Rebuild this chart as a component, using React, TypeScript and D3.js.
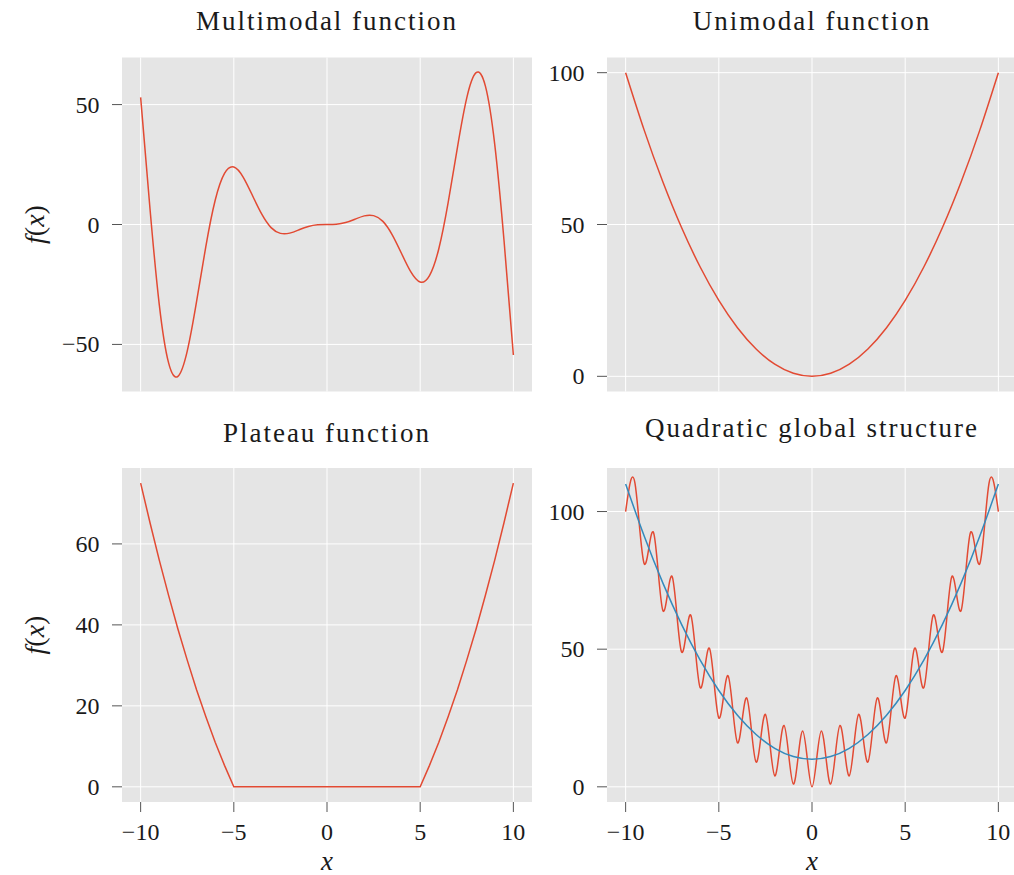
import React from 'react'
import * as d3 from 'd3'

const FONT = '"Liberation Serif", "Times New Roman", serif'
const RED = '#E24A33'
const BLUE = '#348ABD'
const BG = '#E5E5E5'
const TEXT = '#1a1a1a'

const xTicks = [-10, -5, 0, 5, 10]

// half-step x grid shared by the wavy curves
const halfX = [-10, -9.5, -9, -8.5, -8, -7.5, -7, -6.5, -6, -5.5, -5, -4.5, -4, -3.5, -3, -2.5, -2, -1.5, -1, -0.5,
  0, 0.5, 1, 1.5, 2, 2.5, 3, 3.5, 4, 4.5, 5, 5.5, 6, 6.5, 7, 7.5, 8, 8.5, 9, 9.5, 10]
const intX = [-10, -9, -8, -7, -6, -5, -4, -3, -2, -1, 0, 1, 2, 3, 4, 5, 6, 7, 8, 9, 10]

// Multimodal function
const multiY = [53, 6.8, -33.4, -57.7, -63.3, -52.8, -32.2, -9.1, 10.1, 21.3, 24.0, 19.8, 12.1, 4.3, -1.3, -3.7,
  -3.6, -2.2, -0.8, -0.1, 0, 0.1, 0.8, 2.2, 3.6, 3.7, 1.3, -4.3, -12.1, -19.8, -24.0, -21.3, -10.1, 9.1, 32.2,
  52.8, 63.3, 57.7, 33.4, -6.8, -54.4]
const multiTicks = [-50, 0, 50]

// Unimodal function
const uniY = [100, 81, 64, 49, 36, 25, 16, 9, 4, 1, 0, 1, 4, 9, 16, 25, 36, 49, 64, 81, 100]
const uniTicks = [0, 50, 100]

// Plateau function
const plateauX = [-10, -9.5, -9, -8.5, -8, -7.5, -7, -6.5, -6, -5.5, -5, 0, 5, 5.5, 6, 6.5, 7, 7.5, 8, 8.5, 9, 9.5, 10]
const plateauY = [75, 65.3, 56, 47.3, 39, 31.3, 24, 17.3, 11, 5.3, 0, 0, 0, 5.3, 11, 17.3, 24, 31.3, 39, 47.3, 56, 65.3, 75]
const plateauTicks = [0, 20, 40, 60]

// Quadratic global structure
const quadRed = [100, 110.3, 81, 92.3, 64, 76.3, 49, 62.3, 36, 50.3, 25, 40.3, 16, 32.3, 9, 26.3, 4, 22.3, 1, 20.3,
  0, 20.3, 1, 22.3, 4, 26.3, 9, 32.3, 16, 40.3, 25, 50.3, 36, 62.3, 49, 76.3, 64, 92.3, 81, 110.3, 100]
const quadBlue = [110, 91, 74, 59, 46, 35, 26, 19, 14, 11, 10, 11, 14, 19, 26, 35, 46, 59, 74, 91, 110]
const quadTicks = [0, 50, 100]

type Series = { xs: number[]; ys: number[]; color: string; curve: d3.CurveFactory }

const padded = (ext: [number, number]): [number, number] => {
  const m = (ext[1] - ext[0]) * 0.05
  return [ext[0] - m, ext[1] + m]
}

const fmt = (v: number) => (v < 0 ? '\u2212' + Math.abs(v) : String(v))

type PanelProps = {
  left: number; top: number; width: number; height: number
  series: Series[]; yTicks: number[]; title: string; titleY: number
  showX: boolean; showYLabel: boolean
}

const Panel = ({ left, top, width, height, series, yTicks, title, titleY, showX, showYLabel }: PanelProps) => {
  const allX = series.flatMap(s => s.xs)
  const allY = series.flatMap(s => s.ys)
  const x = d3.scaleLinear().domain(padded(d3.extent(allX) as [number, number])).range([left, left + width])
  const y = d3.scaleLinear().domain(padded(d3.extent(allY) as [number, number])).range([top + height, top])
  const cx = left + width / 2
  const cy = top + height / 2

  return (
    <g>
      <rect x={left} y={top} width={width} height={height} fill={BG} />
      {xTicks.map(t => (
        <line key={'gx' + t} x1={x(t)} x2={x(t)} y1={top} y2={top + height} stroke="#fff" strokeWidth={1} />
      ))}
      {yTicks.map(t => (
        <line key={'gy' + t} x1={left} x2={left + width} y1={y(t)} y2={y(t)} stroke="#fff" strokeWidth={1} />
      ))}
      {series.map((s, i) => {
        const line = d3.line<number>()
          .x((_, j) => x(s.xs[j]))
          .y(d => y(d))
          .curve(s.curve)
        return <path key={i} d={line(s.ys) || ''} fill="none" stroke={s.color} strokeWidth={1.5} />
      })}
      {yTicks.map(t => (
        <g key={'ty' + t}>
          <line x1={left - 10} x2={left} y1={y(t)} y2={y(t)} stroke="#555" strokeWidth={1} />
          <text x={left - 22.5} y={y(t) + 8} textAnchor="end" fontSize={24} fill={TEXT}>{fmt(t)}</text>
        </g>
      ))}
      {showX && xTicks.map(t => (
        <g key={'tx' + t}>
          <line x1={x(t)} x2={x(t)} y1={top + height} y2={top + height + 10} stroke="#555" strokeWidth={1} />
          <text x={x(t)} y={840} textAnchor="middle" fontSize={24} fill={TEXT}>{fmt(t)}</text>
        </g>
      ))}
      {showX && (
        <text x={cx} y={870} textAnchor="middle" fontSize={27} fontStyle="italic" fill={TEXT}>x</text>
      )}
      {showYLabel && (
        <text transform={`translate(44,${cy}) rotate(-90)`} textAnchor="middle" fontSize={28} fill={TEXT}>
          <tspan fontStyle="italic">f</tspan>(<tspan fontStyle="italic">x</tspan>)
        </text>
      )}
      <text x={cx} y={titleY} textAnchor="middle" fontSize={27} letterSpacing={2} fill={TEXT}>{title}</text>
    </g>
  )
}

const App = () => {
  const colL = 122
  const colR = 607
  const w = 410
  const rowT = 57.5
  const rowB = 468
  const h = 334

  return (
    <svg width={1014} height={875} style={{ position: 'absolute', left: 0, top: 0, background: '#fff' }}
      fontFamily={FONT}>
      <Panel left={colL} top={rowT} width={w} height={h} yTicks={multiTicks} title="Multimodal function"
        titleY={29.5} showX={false} showYLabel={true}
        series={[{ xs: halfX, ys: multiY, color: RED, curve: d3.curveNatural }]} />
      <Panel left={colR} top={rowT} width={w} height={h} yTicks={uniTicks} title="Unimodal function"
        titleY={29.5} showX={false} showYLabel={false}
        series={[{ xs: intX, ys: uniY, color: RED, curve: d3.curveNatural }]} />
      <Panel left={colL} top={rowB} width={w} height={h} yTicks={plateauTicks} title="Plateau function"
        titleY={442} showX={true} showYLabel={true}
        series={[{ xs: plateauX, ys: plateauY, color: RED, curve: d3.curveLinear }]} />
      <Panel left={colR} top={rowB} width={w} height={h} yTicks={quadTicks} title="Quadratic global structure"
        titleY={437} showX={true} showYLabel={false}
        series={[
          { xs: halfX, ys: quadRed, color: RED, curve: d3.curveNatural },
          { xs: intX, ys: quadBlue, color: BLUE, curve: d3.curveNatural },
        ]} />
    </svg>
  )
}

export default App
